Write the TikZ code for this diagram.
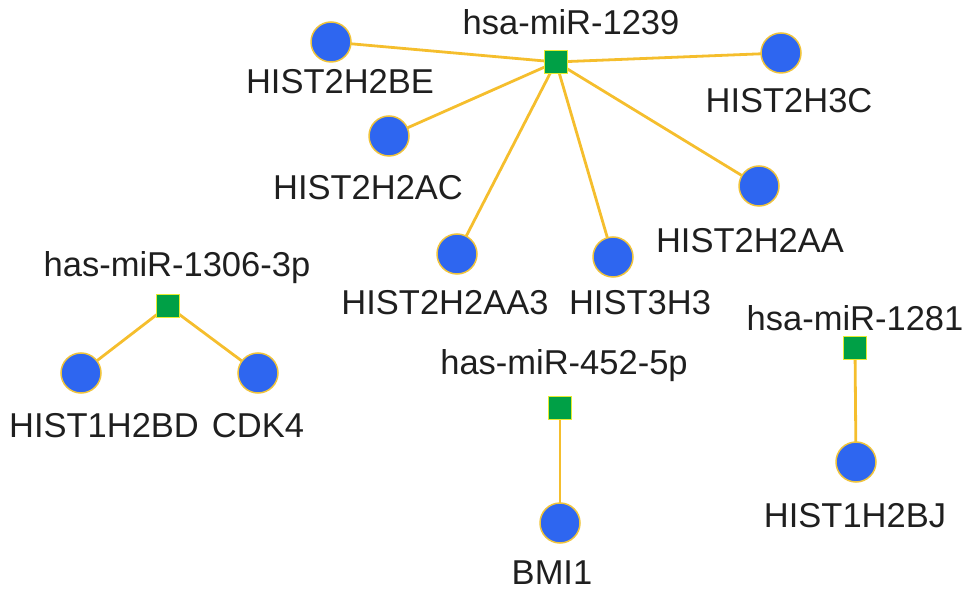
\documentclass[tikz,border=0pt]{standalone}
\usepackage{fontspec}
\setmainfont{Liberation Sans}
\definecolor{genefill}{RGB}{46,102,240}
\definecolor{generim}{RGB}{240,196,60}
\definecolor{mirfill}{RGB}{0,160,70}
\definecolor{mirrim}{RGB}{230,235,50}
\definecolor{edgecol}{RGB}{245,190,45}
\tikzset{
  gene/.style={circle,fill=genefill,draw=generim,line width=1.5pt,minimum size=40pt,inner sep=0pt},
  mir/.style={rectangle,fill=mirfill,draw=mirrim,line width=1.8pt,minimum size=23pt,inner sep=0pt},
  lbl/.style={font=\fontsize{34.5}{36}\selectfont,text=black!88,inner sep=0pt},
  link/.style={draw=edgecol,line width=2.8pt}
}
\begin{document}
\begin{tikzpicture}[x=1pt,y=-1pt]
\useasboundingbox (0,0) rectangle (969,593);
\coordinate (c1239) at (556,62);
\coordinate (c1306) at (168,306);
\coordinate (c452) at (560,408);
\coordinate (c1281) at (855,348);
\coordinate (cg2be) at (331,42);
\coordinate (cg3c) at (781,53);
\coordinate (cg2ac) at (389,136);
\coordinate (cg2aa) at (759,186);
\coordinate (cg2aa3) at (457,254);
\coordinate (cg3h3) at (613,257);
\coordinate (cg1bd) at (81,373);
\coordinate (cgcdk) at (258,373);
\coordinate (cgbmi) at (560,523);
\coordinate (cg1bj) at (856,462);

\foreach \a/\b in {c1239/cg2be,c1239/cg3c,c1239/cg2ac,c1239/cg2aa,c1239/cg2aa3,c1239/cg3h3,c1306/cg1bd,c1306/cgcdk,c452/cgbmi,c1281/cg1bj}
  \draw[link] (\a) -- (\b);

\node[mir] (m1239) at (c1239) {};
\node[mir] (m1306) at (c1306) {};
\node[mir] (m452) at (c452) {};
\node[mir] (m1281) at (c1281) {};

\node[gene] (g2be) at (cg2be) {};
\node[gene] (g3c) at (cg3c) {};
\node[gene] (g2ac) at (cg2ac) {};
\node[gene] (g2aa) at (cg2aa) {};
\node[gene] (g2aa3) at (cg2aa3) {};
\node[gene] (g3h3) at (cg3h3) {};
\node[gene] (g1bd) at (cg1bd) {};
\node[gene] (gcdk) at (cgcdk) {};
\node[gene] (gbmi) at (cgbmi) {};
\node[gene] (g1bj) at (cg1bj) {};

\node[lbl] (t1239) at (571,22) {hsa-miR-1239};
\node[lbl] (t2be) at (340,82) {HIST2H2BE};
\node[lbl] (t3c) at (789,101) {HIST2H3C};
\node[lbl] (t2ac) at (368,188) {HIST2H2AC};
\node[lbl] (t2aa) at (750,241) {HIST2H2AA};
\node[lbl] (t2aa3) at (445,303) {HIST2H2AA3};
\node[lbl] (t3h3) at (640,303) {HIST3H3};
\node[lbl] (t1306) at (177,268) {has-miR-1306-3p};
\node[lbl] (t1bd) at (104,426) {HIST1H2BD};
\node[lbl] (tcdk) at (258,426) {CDK4};
\node[lbl] (t452) at (564,366) {has-miR-452-5p};
\node[lbl] (tbmi) at (552,573) {BMI1};
\node[lbl] (t1281) at (855,318) {hsa-miR-1281};
\node[lbl] (t1bj) at (855,516) {HIST1H2BJ};
\end{tikzpicture}
\end{document}
